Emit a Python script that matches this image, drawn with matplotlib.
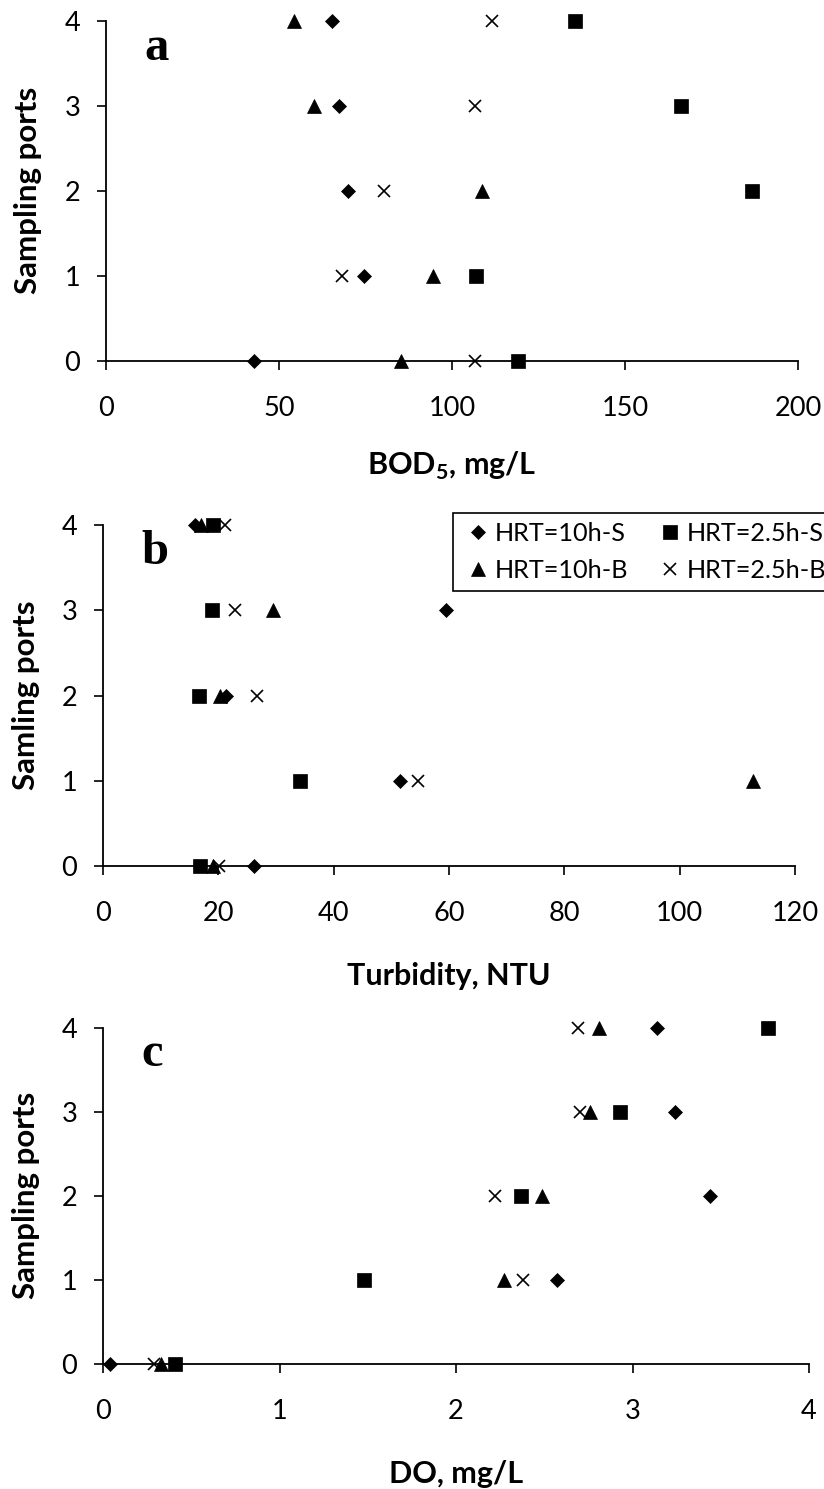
import matplotlib
matplotlib.use("Agg")
import matplotlib.pyplot as plt

plt.rcParams['font.family'] = ['Lato', 'DejaVu Sans']
plt.rcParams['mathtext.fontset'] = 'custom'
plt.rcParams['mathtext.rm'] = 'Lato'
plt.rcParams['mathtext.bf'] = 'Lato:bold'

# sampling port number (y axis of every panel)
ports = [0, 1, 2, 3, 4]

series_names = ['HRT=10h-S', 'HRT=2.5h-S', 'HRT=10h-B', 'HRT=2.5h-B']

# BOD5, mg/L
bod_10h_s = [42.9, 74.6, 70.0, 67.2, 65.2]
bod_25h_s = [119.2, 106.8, 186.8, 166.2, 135.5]
bod_10h_b = [85.2, 94.5, 108.7, 60.1, 54.3]
bod_25h_b = [106.7, 68.3, 80.4, 106.7, 111.5]

# Turbidity, NTU
turb_10h_s = [26.2, 51.5, 21.3, 59.4, 15.9]
turb_25h_s = [16.9, 34.1, 16.6, 18.9, 19.1]
turb_10h_b = [19.0, 112.8, 20.3, 29.5, 17.0]
turb_25h_b = [20.2, 54.6, 26.7, 22.9, 21.2]

# DO, mg/L
do_10h_s = [0.04, 2.57, 3.44, 3.24, 3.14]
do_25h_s = [0.41, 1.48, 2.37, 2.93, 3.77]
do_10h_b = [0.33, 2.27, 2.49, 2.76, 2.81]
do_25h_b = [0.29, 2.38, 2.22, 2.70, 2.69]

# marker style per series (same order as series_names)
styles = [
    dict(marker='D', ms=7.3, mfc='black', mec='black', mew=0.5, ls='none'),
    dict(marker='s', ms=9.5, mfc='black', mec='black', mew=0.5, ls='none'),
    dict(marker='^', ms=9.5, mfc='black', mec='black', mew=0.5, ls='none'),
    dict(marker='x', ms=9.0, mfc='none', mec='black', mew=1.2, ls='none'),
]

fig = plt.figure(figsize=(8.24, 14.89), dpi=100)
W, H = 824.0, 1489.0


def add_panel(left, right, top, bottom):
    return fig.add_axes([left / W, 1 - bottom / H, (right - left) / W, (bottom - top) / H])


ax_a = add_panel(106, 798, 20.7, 361)
ax_b = add_panel(103, 795, 525, 866)
ax_c = add_panel(103, 809, 1027.7, 1364)

panels = [
    (ax_a, [bod_10h_s, bod_25h_s, bod_10h_b, bod_25h_b], (0, 200), [0, 50, 100, 150, 200],
     r'BOD$_{\mathbf{5}}$, mg/L', 'Sampling ports', 'a', -0.335, -0.0997),
    (ax_b, [turb_10h_s, turb_25h_s, turb_10h_b, turb_25h_b], (0, 120), [0, 20, 40, 60, 80, 100, 120],
     'Turbidity, NTU', 'Samling ports', 'b', -0.349, -0.098),
    (ax_c, [do_10h_s, do_25h_s, do_10h_b, do_25h_b], (0, 4), [0, 1, 2, 3, 4],
     'DO, mg/L', 'Sampling ports', 'c', -0.354, -0.096),
]

handles = []
for ax, data, xlim, xticks, xlab, ylab, letter, xlab_y, ylab_x in panels:
    lines = []
    for vals, name, st in zip(data, series_names, styles):
        ln, = ax.plot(vals, ports, label=name, clip_on=False, zorder=3, **st)
        lines.append(ln)
    if ax is ax_b:
        handles = lines

    ax.set_xlim(*xlim)
    ax.set_ylim(0, 4)
    ax.set_xticks(xticks)
    ax.set_yticks(ports)
    for s in ['top', 'right']:
        ax.spines[s].set_visible(False)
    for s in ['left', 'bottom']:
        ax.spines[s].set_linewidth(1.3)
    ax.tick_params(axis='both', direction='out', length=6.5, width=1.2, labelsize=19.5)
    ax.tick_params(axis='x', pad=19)
    ax.tick_params(axis='y', pad=12)

    ax.set_xlabel(xlab, fontsize=22, fontweight='bold')
    ax.xaxis.label.set_va('baseline')
    ax.xaxis.set_label_coords(0.5, xlab_y)
    ax.set_ylabel(ylab, fontsize=22.5, fontweight='bold')
    ax.yaxis.label.set_va('baseline')
    ax.yaxis.set_label_coords(ylab_x, 0.5)

    ax.text(0.055, 0.885, letter, transform=ax.transAxes, ha='left', va='baseline',
            fontsize=35, fontweight='bold', family='Liberation Serif')

# legend in panel b, runs past the right edge of the figure
order = [0, 2, 1, 3]
leg = ax_b.legend([handles[i] for i in order], [series_names[i] for i in order],
                  ncol=2, loc='upper left', bbox_to_anchor=(453 / W, 1 - 513 / H),
                  bbox_transform=fig.transFigure, borderaxespad=0, fontsize=18.2,
                  frameon=True, fancybox=False, edgecolor='black', framealpha=1,
                  borderpad=0.35, handlelength=1.25, handletextpad=0.05,
                  labelspacing=0.57, columnspacing=1.03)
leg.get_frame().set_linewidth(1.2)

fig.savefig('out.png', dpi=100)
